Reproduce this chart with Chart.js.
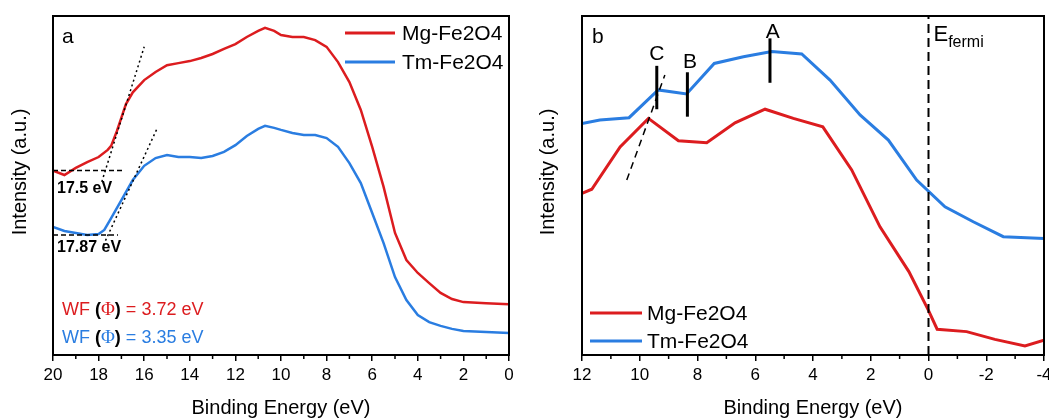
<!DOCTYPE html>
<html><head><meta charset="utf-8">
<script src="https://cdn.jsdelivr.net/npm/chart.js@4.4.0/dist/chart.umd.min.js"></script>
<style>
html,body{margin:0;padding:0;background:#fff;width:1049px;height:420px;overflow:hidden}
#wa{position:absolute;left:0;top:0;width:530px;height:420px}
#wb{position:absolute;left:530px;top:0;width:519px;height:420px}
</style></head><body>
<div id="wa"><canvas id="ca" width="530" height="420"></canvas></div>
<div id="wb"><canvas id="cb" width="519" height="420"></canvas></div>
<script>
const FONT = "'Liberation Sans', Arial, sans-serif";
const RED = '#dc1c1f', BLUE = '#2a7de1';
const SERIES = ['Mg-Fe2O4', 'Tm-Fe2O4'];

// ---- Panel a: UPS secondary-electron cutoff spectra ----
const energyMgA = [20,19.5,19,18.5,18,17.6,17.45,17.2,17,16.8,16.5,16,15.5,15,14.5,14,13.5,13,12.5,12,11.5,11,10.7,10.3,10,9.5,9,8.5,8,7.5,7,6.5,6,5.5,5,4.5,4,3.5,3,2.5,2,1,0];
const intensityMgA = [54.4,53.1,55.2,56.9,58.4,60.5,61.7,66.0,70.0,74.0,77.5,81.1,83.5,85.5,86.1,86.7,87.6,88.8,90.3,91.7,93.8,95.6,96.5,95.6,94.4,93.8,93.8,92.9,90.9,86.4,80.5,72.3,61.4,49.6,36.0,28.0,24.2,21.2,18.3,16.5,15.6,15.3,15.0];
const energyTmA = [20,19.5,19,18.5,18,17.75,17.5,17,16.5,16,15.5,15,14.5,14,13.5,13,12.5,12,11.5,11,10.7,10.3,10,9.5,9,8.5,8,7.5,7,6.5,6,5.5,5,4.5,4,3.5,3,2.5,2,1,0];
const intensityTmA = [37.8,36.6,36.0,35.4,35.7,36.9,39.8,45.7,51.6,55.8,58.1,59.0,58.4,58.4,58.1,58.7,59.9,61.9,64.6,66.7,67.6,67.0,66.4,65.5,64.9,64.9,64.0,61.4,56.6,50.7,41.9,33.0,23.0,16.2,11.8,9.7,8.6,7.7,7.1,6.8,6.5];
// guide lines (cutoff construction)
const baseMgA = [[20,54.4],[16.9,54.4]];
const baseTmA = [[20,35.4],[17.15,35.4]];
const tangMgA = [[17.86,51.1],[16.0,90.9]];
const tangTmA = [[17.79,32.4],[15.45,66.6]];
const cutoffLabels = ['17.5 eV', '17.87 eV'];
const wfLabels = ['3.72 eV', '3.35 eV'];

// ---- Panel b: valence band spectra ----
const energyTmB = [12,11.38,10.37,9.36,8.38,7.42,6.41,5.43,4.39,3.41,2.37,1.39,0.41,-0.57,-1.55,-2.59,-4];
const intensityTmB = [68.3,69.3,70.0,78.2,77.0,86.0,88.0,89.5,88.8,81.1,70.8,63.4,51.6,43.7,39.3,34.9,34.4];
const energyMgB = [12,11.66,10.68,9.70,8.66,7.68,6.70,5.66,4.68,3.66,2.66,1.68,0.68,0.01,-0.30,-1.32,-2.30,-3.34,-4];
const intensityMgB = [47.7,48.9,61.4,69.8,63.2,62.6,68.5,72.5,69.8,67.3,54.6,37.8,24.6,13.3,7.6,6.9,4.6,2.7,4.4];
const peakNames = ['C','B','A'];
const peakEnergy = [9.41, 8.35, 5.49];
const peakLow = [72.5, 70.3, 80.3];
const peakHigh = [85.3, 83.4, 93.4];
const peakLabelPos = [[9.41,88.6],[8.26,86.4],[5.39,95.3]];
const edgeC = [[10.45,51.6],[9.13,82.6]];
const fermiLevel = 0;

const pts = (xs, ys) => xs.map((x,i)=>({x, y: ys[i]}));
const seg = a => a.map(p=>({x:p[0], y:p[1]}));

function curve(label, data, color, w){
  return {label, data, borderColor: color, backgroundColor: color, borderWidth: w,
    pointRadius: 0, tension: 0, fill: false, order: 2};
}
function guide(data, dash, w){
  return {label: '_guide', data, borderColor: '#000', borderWidth: w, borderDash: dash,
    pointRadius: 0, tension: 0, fill: false, order: 1};
}

function baseOptions(xmin, xmax, yAxisWidth, rightPad){
  return {
    responsive: false, animation: false, devicePixelRatio: 1,
    layout: {padding: {top: 16, right: rightPad, left: 0, bottom: 0}},
    plugins: {legend: {display: false}, tooltip: {enabled: false}},
    scales: {
      x: {type: 'linear', min: xmin, max: xmax, reverse: true,
        afterFit(s){ s.height = 65; s.paddingLeft = 0; s.paddingRight = 0; },
        border: {display: false},
        grid: {display: true, drawOnChartArea: false, drawTicks: true, tickLength: 6, color: '#000', lineWidth: 1.5},
        ticks: {stepSize: 2, color: '#000', font: {family: FONT, size: 17}, padding: 4, maxRotation: 0, autoSkip: false},
        title: {display: true, text: 'Binding Energy (eV)', color: '#000', font: {family: FONT, size: 20}, padding: {top: 0, bottom: 0}}
      },
      y: {type: 'linear', min: 0, max: 100,
        afterFit(s){ s.width = yAxisWidth; s.paddingTop = 0; s.paddingBottom = 0; },
        border: {display: false}, grid: {display: false}, ticks: {display: false}
      }
    }
  };
}

function framePlugin(yTitleX, extra){
  return {
    id: 'frame',
    afterDraw(chart){
      const {ctx, chartArea: a, scales: {x}} = chart;
      ctx.save();
      ctx.strokeStyle = '#000';
      ctx.lineWidth = 1.5;
      for (let v = Math.ceil(x.min) + 1; v < x.max; v += 2) {
        const px = x.getPixelForValue(v);
        ctx.beginPath(); ctx.moveTo(px, a.bottom); ctx.lineTo(px, a.bottom + 4); ctx.stroke();
      }
      ctx.lineWidth = 2;
      ctx.strokeRect(a.left, a.top, a.right - a.left, a.bottom - a.top);
      // y title
      ctx.save();
      ctx.translate(yTitleX, 172);
      ctx.rotate(-Math.PI/2);
      ctx.fillStyle = '#000';
      ctx.font = '20px ' + FONT;
      ctx.textAlign = 'center'; ctx.textBaseline = 'middle';
      ctx.fillText('Intensity (a.u.)', 0, 0);
      ctx.restore();
      extra(chart, ctx);
      ctx.restore();
    }
  };
}

function legendDraw(ctx, x0, x1, tx, ys){
  ctx.lineWidth = 3;
  ctx.font = '21px ' + FONT;
  ctx.textAlign = 'left'; ctx.textBaseline = 'middle';
  [RED, BLUE].forEach((c, i) => {
    ctx.strokeStyle = c;
    ctx.beginPath(); ctx.moveTo(x0, ys[i]); ctx.lineTo(x1, ys[i]); ctx.stroke();
    ctx.fillStyle = '#000';
    ctx.fillText(SERIES[i], tx, ys[i] + 1);
  });
}

function wfText(ctx, x, y, color, value){
  ctx.textBaseline = 'middle'; ctx.textAlign = 'left';
  const parts = [
    ['WF ', color, '18px ' + FONT],
    ['(', '#000', 'bold 18px ' + FONT],
    ['\u03A6', color, '19px "Liberation Serif", serif'],
    [')', '#000', 'bold 18px ' + FONT],
    [' = ' + value, color, '18px ' + FONT]
  ];
  let cx = x;
  for (const [t, c, f] of parts) {
    ctx.font = f; ctx.fillStyle = c;
    ctx.fillText(t, cx, y);
    cx += ctx.measureText(t).width;
  }
}

// ---- Chart a ----
const optA = baseOptions(0, 20, 53, 21);
new Chart(document.getElementById('ca'), {
  type: 'line',
  data: {datasets: [
    guide(seg(baseMgA), [5,3], 1.5),
    guide(seg(baseTmA), [5,3], 1.5),
    guide(seg(tangMgA), [2,3], 1.5),
    guide(seg(tangTmA), [2,3], 1.5),
    curve(SERIES[0], pts(energyMgA, intensityMgA), RED, 2.5),
    curve(SERIES[1], pts(energyTmA, intensityTmA), BLUE, 2.5)
  ]},
  options: optA,
  plugins: [framePlugin(20, (chart, ctx) => {
    ctx.fillStyle = '#000';
    ctx.font = '21px ' + FONT; ctx.textAlign = 'left'; ctx.textBaseline = 'middle';
    ctx.fillText('a', 62, 37);
    legendDraw(ctx, 345, 395, 402, [33, 62]);
    ctx.fillStyle = '#000';
    ctx.font = 'bold 16px ' + FONT; ctx.textAlign = 'left'; ctx.textBaseline = 'middle';
    ctx.fillText(cutoffLabels[0], 57, 189);
    ctx.fillText(cutoffLabels[1], 57, 248);
    wfText(ctx, 62, 310, RED, wfLabels[0]);
    wfText(ctx, 62, 338, BLUE, wfLabels[1]);
  })]
});

// ---- Chart b ----
const optB = baseOptions(-4, 12, 52, 5);
const peakSets = peakEnergy.map((e, i) => guide([{x: e, y: peakLow[i]}, {x: e, y: peakHigh[i]}], [], 3));
new Chart(document.getElementById('cb'), {
  type: 'line',
  data: {datasets: [
    ...peakSets,
    guide(seg(edgeC), [7,5], 1.5),
    guide([{x: fermiLevel, y: 0}, {x: fermiLevel, y: 100}], [9,5], 2),
    curve(SERIES[0], pts(energyMgB, intensityMgB), RED, 3),
    curve(SERIES[1], pts(energyTmB, intensityTmB), BLUE, 3)
  ]},
  options: optB,
  plugins: [framePlugin(18, (chart, ctx) => {
    const {x, y} = chart.scales;
    ctx.fillStyle = '#000';
    ctx.font = '21px ' + FONT; ctx.textAlign = 'left'; ctx.textBaseline = 'middle';
    ctx.fillText('b', 62, 37);
    ctx.textAlign = 'center';
    peakNames.forEach((n, i) => {
      ctx.fillText(n, x.getPixelForValue(peakLabelPos[i][0]), y.getPixelForValue(peakLabelPos[i][1]));
    });
    const fx = x.getPixelForValue(fermiLevel) + 5;
    ctx.textAlign = 'left'; ctx.textBaseline = 'alphabetic';
    ctx.font = '22px ' + FONT;
    ctx.fillText('E', fx, 41);
    const ew = ctx.measureText('E').width;
    ctx.font = '16px ' + FONT;
    ctx.fillText('fermi', fx + ew, 47);
    legendDraw(ctx, 60, 112, 117, [313, 341]);
  })]
});
</script>
</body></html>
